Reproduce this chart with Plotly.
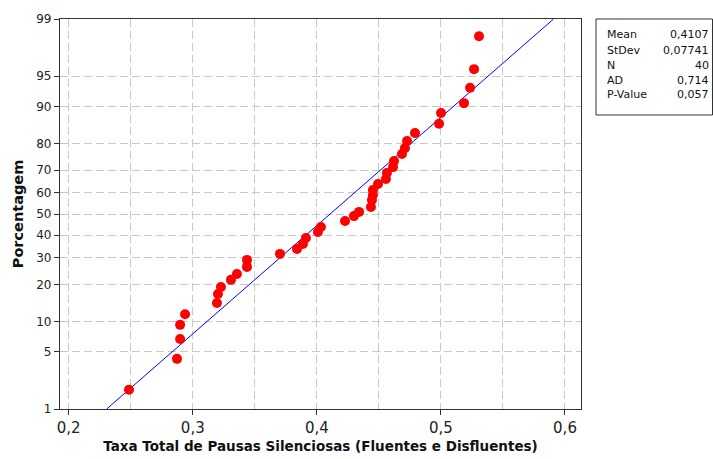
import plotly.graph_objects as go
from statistics import NormalDist

# ---- data ----
taxa = [0.2486, 0.2873, 0.2898, 0.2898, 0.2938, 0.3195, 0.3203, 0.3227, 0.3308, 0.3356,
        0.3437, 0.3437, 0.3703, 0.3840, 0.3888, 0.3912, 0.4009, 0.4033, 0.4227, 0.4299,
        0.4340, 0.4436, 0.4444, 0.4452, 0.4452, 0.4493, 0.4557, 0.4565, 0.4614, 0.4622,
        0.4686, 0.4710, 0.4727, 0.4791, 0.4985, 0.5001, 0.5186, 0.5235, 0.5267, 0.5307]
porcentagem = [1.8, 4.2, 6.8, 9.3, 11.6, 14.4, 17.0, 19.2, 21.6, 23.7,
               26.4, 29.2, 31.7, 33.8, 36.0, 38.7, 41.5, 43.8, 46.7, 49.0,
               51.0, 53.3, 56.6, 59.0, 61.3, 64.0, 66.2, 68.8, 71.2, 73.6,
               76.3, 78.4, 80.8, 83.3, 85.9, 88.6, 90.7, 93.4, 95.8, 98.3]
mean = 0.4107
stdev = 0.07741
stat_labels = ["Mean", "StDev", "N", "AD", "P-Value"]
stat_values = ["0,4107", "0,07741", "40", "0,714", "0,057"]
y_ticks = [1, 5, 10, 20, 30, 40, 50, 60, 70, 80, 90, 95, 99]
x_ticks = [0.2, 0.3, 0.4, 0.5, 0.6]
x_ticklabels = ["0,2", "0,3", "0,4", "0,5", "0,6"]
x_minor = [0.25, 0.35, 0.45, 0.55]

nd = NormalDist()
def prob(p):
    return nd.inv_cdf(p / 100.0)

zlo, zhi = prob(1), prob(99)

fig = go.Figure()
# fitted normal line (straight on probability scale)
fig.add_trace(go.Scatter(
    x=[mean + stdev * zlo, mean + stdev * zhi], y=[zlo, zhi],
    mode="lines", line=dict(color="#0000ff", width=1), hoverinfo="skip"))
fig.add_trace(go.Scatter(
    x=taxa, y=[prob(p) for p in porcentagem], mode="markers",
    marker=dict(color="#ff0000", size=10, line=dict(width=0))))

grid = dict(showgrid=True, gridcolor="#c8c8c8", griddash="8px,4px", gridwidth=1)

fig.update_xaxes(
    range=[0.193, 0.6129], tickvals=x_ticks, ticktext=x_ticklabels, automargin=False,
    ticks="outside", ticklen=5, tickcolor="#333", tickfont=dict(size=15, color="#222"),
    showline=True, linecolor="#333", linewidth=1.3, mirror=True, zeroline=False,
    minor=dict(tickvals=x_minor, ticks="", **grid),
    title=dict(text="<b>Taxa Total de Pausas Silenciosas (Fluentes e Disfluentes)</b>",
               font=dict(size=13.5, color="#111"), standoff=5),
    **grid)
fig.update_yaxes(
    range=[zlo, zhi], tickvals=[prob(p) for p in y_ticks], ticktext=[str(t) for t in y_ticks],
    automargin=False,
    ticks="outside", ticklen=5, tickcolor="#333", tickfont=dict(size=12, color="#222"),
    showline=True, linecolor="#333", linewidth=1.3, mirror=True, zeroline=False,
    title=dict(text="<b>Porcentagem</b>", font=dict(size=14.5, color="#111"), standoff=9),
    **grid)

# body margin is removed below, so figure coords = screen coords
L, R, T, B = 60, 581, 19, 409
W, H = 713, 459
pw, ph = R - L, B - T

def px(xs):
    return (xs - L) / pw
def py(ys):
    return (B - ys) / ph

fig.add_shape(type="rect", xref="paper", yref="paper", x0=px(596), x1=px(712.5),
              y0=py(115), y1=py(19), line=dict(color="#333", width=1), fillcolor="white")
rows_px = [35, 50, 65, 80, 95]
for lab, val, yy in zip(stat_labels, stat_values, rows_px):
    fig.add_annotation(x=px(605), y=py(yy), xref="paper", yref="paper", text=lab,
                       showarrow=False, xanchor="left", yanchor="middle",
                       font=dict(size=11, color="#111"))
    fig.add_annotation(x=px(711), y=py(yy), xref="paper", yref="paper", text=val,
                       showarrow=False, xanchor="right", yanchor="middle",
                       font=dict(size=11, color="#111"))

fig.update_layout(
    width=W, height=H, margin=dict(l=L, r=W - R, t=T, b=H - B),
    plot_bgcolor="white", paper_bgcolor="white", showlegend=False,
    font=dict(family="DejaVu Sans", color="#111"))

fig.write_html("out.html", config={"displayModeBar": False},
               post_script="document.body.style.margin='0';document.body.style.overflow='hidden';")
